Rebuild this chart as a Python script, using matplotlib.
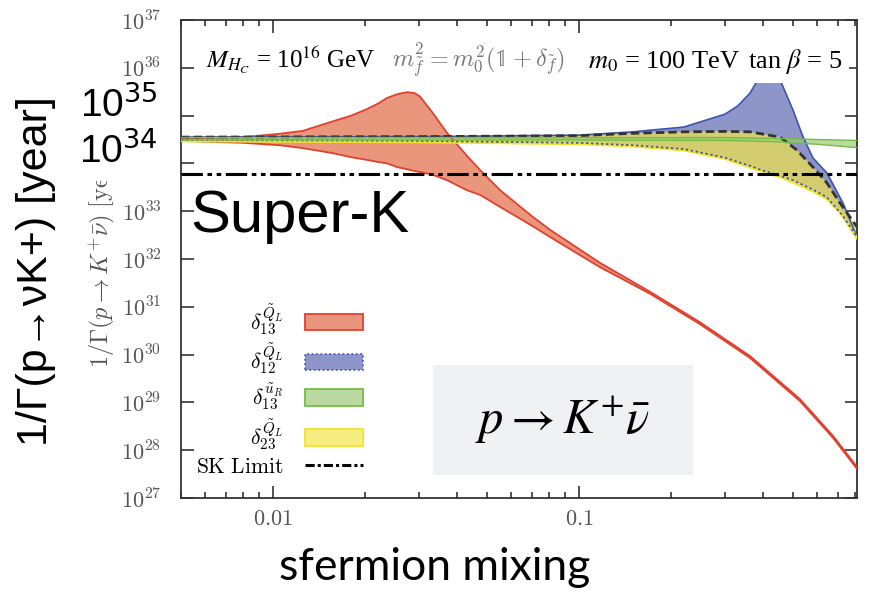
# -*- coding: utf-8 -*-
"""Proton lifetime p -> K+ nu-bar versus sfermion flavour mixing (slide recreation)."""

import numpy as np
import matplotlib
matplotlib.use("Agg")
import matplotlib.pyplot as plt
from matplotlib.patches import Patch, Rectangle
from matplotlib.lines import Line2D

plt.rcParams["mathtext.fontset"] = "stix"

# --- data: log10(1/Gamma [year]) ---
red_x = [0.005, 0.008, 0.0105, 0.0125, 0.0155, 0.018, 0.020, 0.022, 0.0236,
         0.0255, 0.0274, 0.029, 0.0302, 0.0333, 0.037, 0.043, 0.0475, 0.0552,
         0.070, 0.0804, 0.117, 0.171, 0.248, 0.362, 0.527, 0.676, 0.81]
red_hi = [34.53, 34.55, 34.62, 34.68, 34.87, 35.00, 35.12, 35.25, 35.37,
          35.45, 35.49, 35.47, 35.40, 35.05, 34.64, 34.16, 33.86, 33.44,
          32.90, 32.61, 31.92, 31.31, 30.68, 29.97, 29.07, 28.30, 27.65]
red_lo = [34.47, 34.43, 34.38, 34.32, 34.22, 34.13, 34.08, 34.03, 34.00,
          33.92, 33.88, 33.84, 33.82, 33.76, 33.65, 33.44, 33.34, 33.09,
          32.70, 32.46, 31.83, 31.27, 30.64, 29.93, 29.03, 28.26, 27.61]

blue_x = [0.005, 0.03, 0.1, 0.15, 0.22, 0.30, 0.33, 0.362, 0.38, 0.395,
          0.405, 0.42, 0.454, 0.50, 0.54, 0.582, 0.646, 0.729, 0.81]
blue_hi = [34.55, 34.56, 34.59, 34.66, 34.76, 35.03, 35.20, 35.47, 35.70, 35.90,
           36.00, 35.90, 35.75, 35.12, 34.55, 34.11, 33.80, 33.17, 32.46]
blue_lo = [34.49, 34.47, 34.43, 34.38, 34.30, 34.12, 34.03, 33.95, 33.90, 33.86,
           33.84, 33.81, 33.74, 33.65, 33.55, 33.45, 33.29, 32.90, 32.46]

yellow_x = [0.005, 0.03, 0.1, 0.15, 0.22, 0.30, 0.362, 0.454, 0.515, 0.582,
            0.646, 0.713, 0.81]
yellow_hi = [34.55, 34.56, 34.58, 34.63, 34.66, 34.67, 34.66, 34.55, 34.28, 33.92,
             33.59, 33.17, 32.67]
yellow_lo = [34.47, 34.45, 34.41, 34.36, 34.28, 34.10, 33.92, 33.72, 33.57, 33.42,
             33.26, 32.98, 32.44]

green_x = [0.005, 0.1, 0.3, 0.45, 0.6, 0.81]
green_hi = [34.54, 34.54, 34.54, 34.52, 34.50, 34.48]
green_lo = [34.49, 34.49, 34.48, 34.45, 34.40, 34.33]

SK_LIMIT = 5.9e33
YEXP = list(range(27, 38))
XTICKS = [0.01, 0.1]
XTICK_LABELS = [r"$0.01$", r"$0.1$"]

LEG_LABELS = [r"$\delta^{\tilde{Q}_L}_{13}$", r"$\delta^{\tilde{Q}_L}_{12}$",
              r"$\delta^{\tilde{u}_R}_{13}$", r"$\delta^{\tilde{Q}_L}_{23}$",
              r"$\mathrm{SK\ Limit}$"]

W, H = 869, 592


def _fx(px):
    return px / W


def _fy(py):
    return 1.0 - py / H


def _band(ax, x, lo, hi, face, alpha=1.0):
    x = np.asarray(x)
    ax.fill_between(x, 10.0 ** np.asarray(lo), 10.0 ** np.asarray(hi),
                    facecolor=face, edgecolor="none", alpha=alpha, zorder=2)


fig = plt.figure(figsize=(W / 100, H / 100), dpi=100)
ax = fig.add_axes([_fx(181), _fy(498), _fx(857) - _fx(181), _fy(20) - _fy(498)])

# bands
_band(ax, red_x, red_lo, red_hi, "#EA967C")
ax.plot(red_x, 10.0 ** np.asarray(red_hi), color="#E2402E", lw=1.3, zorder=3)
ax.plot(red_x, 10.0 ** np.asarray(red_lo), color="#E2402E", lw=1.3, zorder=3)

_band(ax, blue_x, blue_lo, blue_hi, "#8E95C9")
ax.plot(blue_x, 10.0 ** np.asarray(blue_hi), color="#3D55B0", lw=1.2, zorder=3)

_band(ax, yellow_x, yellow_lo, yellow_hi, "#F2E64A", alpha=0.7)
ax.plot(yellow_x, 10.0 ** np.asarray(yellow_lo), color="#F2E22E", lw=2.0, zorder=3)
ax.plot(blue_x, 10.0 ** np.asarray(blue_lo), color="#3D55B0", lw=1.2,
        ls=(0, (1.5, 1.5)), zorder=4)
ax.plot(yellow_x, 10.0 ** np.asarray(yellow_hi), color="#333333", lw=2.0,
        ls=(0, (3, 1.5)), zorder=4)

_band(ax, green_x, green_lo, green_hi, "#9CCB7A", alpha=0.7)
ax.plot(green_x, 10.0 ** np.asarray(green_hi), color="#74BE44", lw=1.0, zorder=4)
ax.plot(green_x, 10.0 ** np.asarray(green_lo), color="#74BE44", lw=1.0, zorder=4)

ax.axhline(SK_LIMIT, color="black", lw=2.2,
           ls=(0, (7, 1.5, 1.5, 1.5, 1.5, 1.5)), zorder=5)

# axes
ax.set_xscale("log")
ax.set_yscale("log")
ax.set_xlim(0.005, 0.81)
ax.set_ylim(1e27, 1e37)
ax.set_yticks([10.0 ** e for e in YEXP])
ax.set_yticklabels([rf"$10^{{{e}}}$" for e in YEXP])
ax.yaxis.set_minor_locator(matplotlib.ticker.NullLocator())
ax.set_xticks(XTICKS)
ax.set_xticklabels(XTICK_LABELS)
ax.tick_params(which="both", direction="in", top=True, right=True,
               color="#333333", width=1.2)
ax.tick_params(which="major", length=9)
ax.tick_params(which="minor", length=4)
ax.tick_params(axis="y", pad=14, labelsize=16, labelcolor="#555555")
ax.tick_params(axis="x", pad=8, labelsize=16, labelcolor="#555555")
for t in ax.get_xticklabels() + ax.get_yticklabels():
    t.set_math_fontfamily("cm")
for s in ax.spines.values():
    s.set_color("#333333")
    s.set_linewidth(1.3)

# legend (labels left of the swatches)
handles = [
    Patch(facecolor="#EA967C", edgecolor="#E2402E", lw=1.3),
    Patch(facecolor="#8E95C9", edgecolor="#3D55B0", lw=1.2, ls=":"),
    Patch(facecolor="#BCD9A3", edgecolor="#74BE44", lw=1.3),
    Patch(facecolor="#F6EE7E", edgecolor="#F2E22E", lw=1.3),
    Line2D([], [], color="black", lw=2.2, ls=(0, (3, 1, 1, 1))),
]
leg = ax.legend(handles, LEG_LABELS, markerfirst=False, frameon=False,
                loc="lower left", bbox_to_anchor=(0.0, 0.012), fontsize=15.5,
                handlelength=2.7, handleheight=0.8, handletextpad=1.0,
                labelspacing=0.2, borderaxespad=0.3)
for t in leg.get_texts():
    t.set_math_fontfamily("cm")

# original small y label (its end is hidden under the big "10^34")
fig.text(_fx(103), _fy(368), r"$1/\Gamma(p\rightarrow K^{+}\bar{\nu})\ [\mathrm{year}]$",
         rotation=90, ha="center", va="bottom", fontsize=17.5, color="#555555",
         math_fontfamily="cm")

# parameter line on top
serif = ["Liberation Serif", "DejaVu Serif"]
top_kw = dict(va="baseline", ha="left", family=serif,
              bbox=dict(facecolor="white", edgecolor="none", pad=5))
fig.text(_fx(206), _fy(68), r"$M_{H_C}$ = 10$^{16}$ GeV", fontsize=18, **top_kw)
fig.text(_fx(392), _fy(68), r"$m^2_{\tilde{f}} = m^2_0(\mathbb{1}+\delta_{\tilde{f}})$",
         color="#777777", math_fontfamily="cm", fontsize=17.5, **top_kw)
fig.text(_fx(588), _fy(68), r"$m_0$ = 100 TeV", fontsize=19, **top_kw)
fig.text(_fx(748), _fy(68), r"tan $\beta$ = 5", fontsize=19, **top_kw)

# process label in a grey box
fig.add_artist(Rectangle((_fx(433), _fy(475)), _fx(693) - _fx(433), _fy(365) - _fy(475),
                         transform=fig.transFigure, facecolor="#F0F1F3",
                         edgecolor="none", zorder=3))
fig.text(_fx(562), _fy(420), r"$p \rightarrow K^{+}\bar{\nu}$", ha="center",
         va="center", fontsize=35, zorder=4)

# slide overlay text
big = ["Liberation Sans", "DejaVu Sans"]
fig.text(_fx(36), _fy(271), "1/Γ(p→νK+) [year]", rotation=90, ha="center",
         va="center", fontsize=31, family=big)
fig.text(_fx(158), _fy(117), r"10$^{35}$", ha="right", va="baseline", fontsize=28,
         family=big, math_fontfamily="dejavusans",
         bbox=dict(facecolor="white", edgecolor="none", pad=2))
fig.text(_fx(158), _fy(163), r"10$^{34}$", ha="right", va="baseline", fontsize=28,
         family=big, math_fontfamily="dejavusans",
         bbox=dict(facecolor="white", edgecolor="none", pad=7))
fig.text(_fx(190), _fy(232), "Super-K", ha="left", va="baseline", fontsize=43,
         family=big)
fig.text(_fx(435), _fy(580), "sfermion mixing", ha="center", va="baseline",
         fontsize=32, family=["Lato", "DejaVu Sans"])

fig.savefig("out.png", dpi=100)
